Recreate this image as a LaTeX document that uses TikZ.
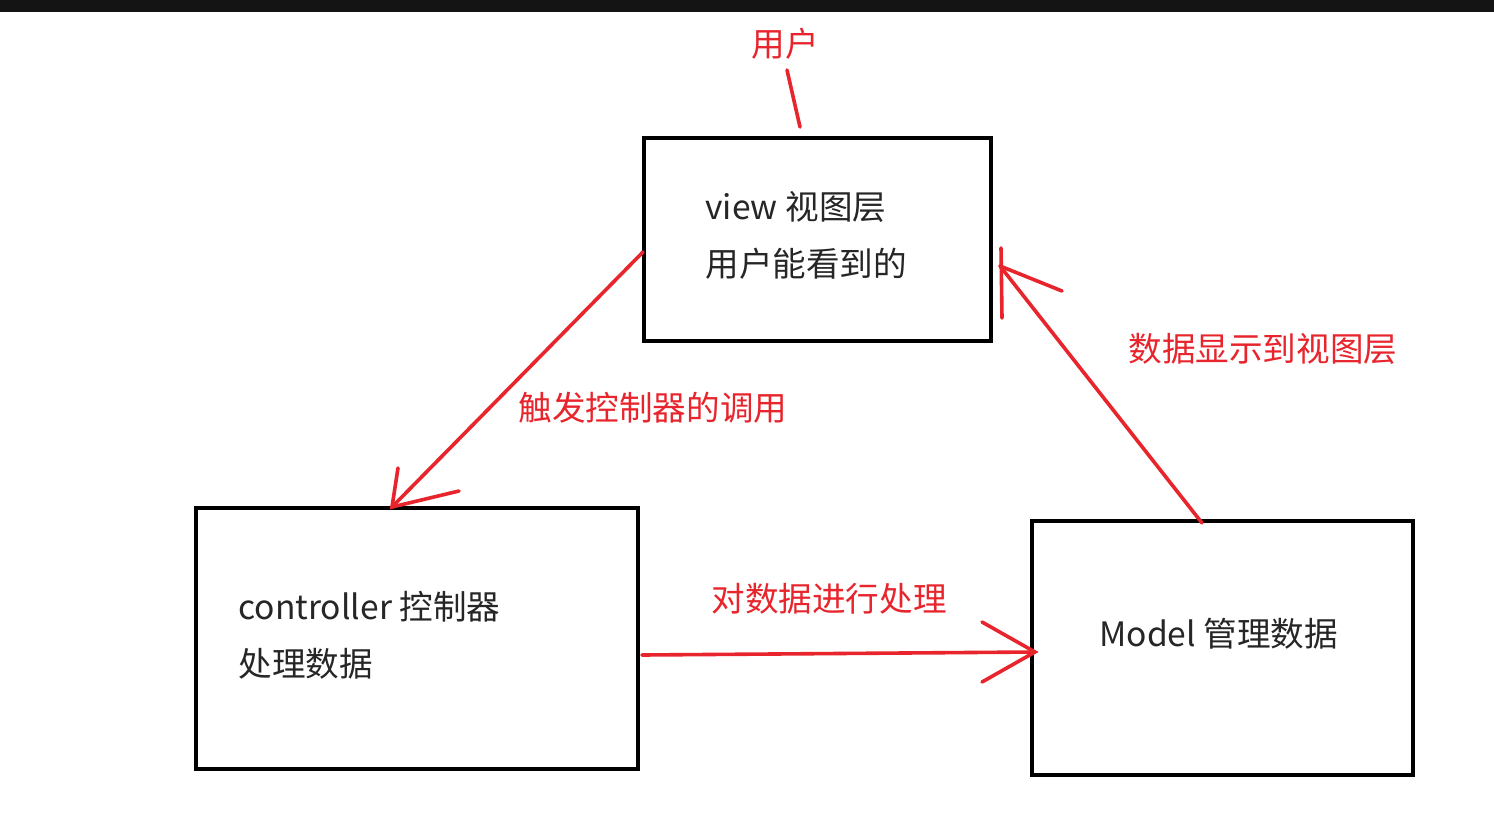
\documentclass[tikz,border=0pt]{standalone}
\usepackage{fontspec}
\newfontfamily\cjk{Noto Sans CJK SC}
\definecolor{pen}{RGB}{232,36,44}
\definecolor{barc}{RGB}{20,20,20}
\begin{document}
\begin{tikzpicture}[x=0.5pt,y=-0.5pt,
  box/.style={draw=black,line width=1.6pt,minimum width=#1,inner sep=0pt},
  txt/.style={anchor=west,inner sep=0pt,font=\cjk\fontsize{16.8}{20}\selectfont,text=black!85},
  lbl/.style={anchor=west,inner sep=0pt,font=\cjk\fontsize{16.8}{20}\selectfont,text=pen},
  redline/.style={draw=pen,line width=1.8pt,line cap=round}]
\useasboundingbox (0,0) rectangle (1494,820);
\fill[white] (0,0) rectangle (1494,820);
\fill[barc] (0,0) rectangle (1494,12);
% boxes
\node[box=173.5pt,minimum height=101.5pt] (view) at (817.5,239.5) {};
\node[box=221pt,minimum height=130.5pt] (ctrl) at (417,638.5) {};
\node[box=190.5pt,minimum height=127pt] (model) at (1222.5,648) {};
% box texts
\node[txt] (v1) at (705,207) {view 视图层};
\node[txt] (v2) at (705,264) {用户能看到的};
\node[txt] (c1) at (238,607) {controller 控制器};
\node[txt] (c2) at (238,664) {处理数据};
\node[txt] (m1) at (1099,634) {Model 管理数据};
% red labels
\node[lbl,anchor=center] (user) at (785,44) {用户};
\node[lbl] (l1) at (518,408) {触发控制器的调用};
\node[lbl] (l2) at (1128,349) {数据显示到视图层};
\node[lbl] (l3) at (711,599) {对数据进行处理};
% connector coordinates
\coordinate (u1) at (787,70);
\coordinate (u2) at (800,127);
\coordinate (a1s) at (643,252);
\coordinate (a1e) at (392,507);
\coordinate (a1b1) at (398,468);
\coordinate (a1b2) at (459,491);
\coordinate (a2s) at (1202,523);
\coordinate (a2e) at (1000,266);
\coordinate (a2b1) at (1062,291);
\coordinate (a2v1) at (1001,248);
\coordinate (a2v2) at (1002,318);
\coordinate (a3s) at (642,655);
\coordinate (a3e) at (1035,652);
\coordinate (a3b1) at (982,622);
\coordinate (a3b2) at (982,682);
% connectors
\draw[redline] (u1) -- (u2);
\draw[redline] (a1s) -- (a1e);
\draw[redline] (a1b1) -- (a1e) -- (a1b2);
\draw[redline] (a2s) -- (a2e);
\draw[redline] (a2b1) -- (a2e);
\draw[redline] (a2v1) -- (a2v2);
\draw[redline] (a3s) -- (a3e);
\draw[redline] (a3b1) -- (a3e) -- (a3b2);
\end{tikzpicture}
\end{document}
